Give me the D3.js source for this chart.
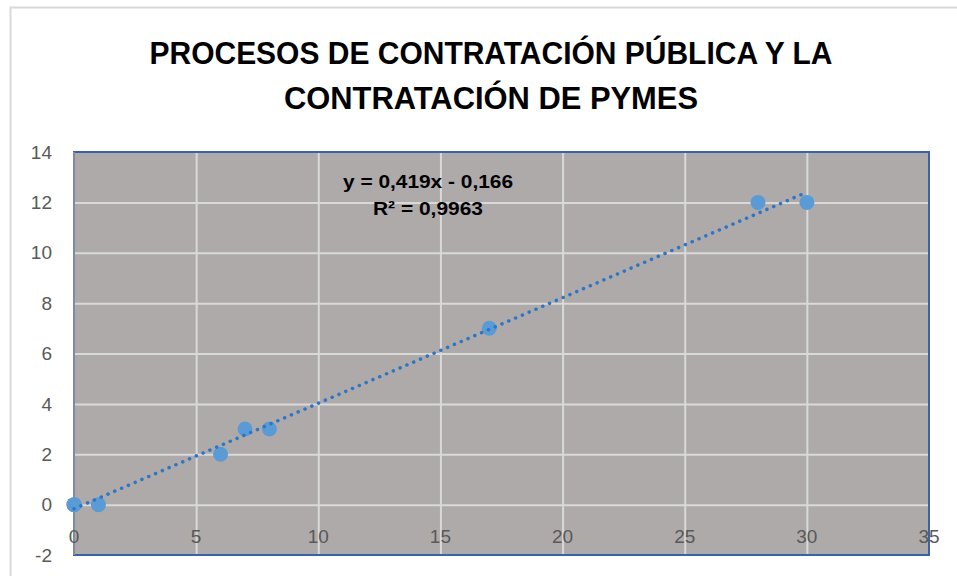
<!DOCTYPE html>
<html>
<head>
<meta charset="utf-8">
<script src="https://cdn.jsdelivr.net/npm/d3@7"></script>
<style>
  html, body { margin: 0; padding: 0; background: #fff; }
  svg { display: block; }
  text { font-family: "Liberation Sans", Arial, sans-serif; }
</style>
</head>
<body>
<svg id="chart" width="957" height="576"></svg>
<script>
/* datos */
var puntos_x = [0, 0, 1, 6, 7, 8, 17, 28, 30];
var puntos_y = [0, 0, 0, 2, 3, 3, 7, 12, 12];

var ticks_x = [0, 5, 10, 15, 20, 25, 30, 35];
var ticks_y = [-2, 0, 2, 4, 6, 8, 10, 12, 14];

var titulo = ['PROCESOS DE CONTRATACIÓN PÚBLICA Y LA', 'CONTRATACIÓN DE PYMES'];
var etiqueta_tendencia = ['y = 0,419x - 0,166', 'R² = 0,9963'];
var tendencia = { pendiente: 0.419, intercepto: -0.166, desde: 0, hasta: 30 };

var svg = d3.select('#chart');

/* marco exterior */
svg.append('rect')
    .attr('x', 10.5).attr('y', 7.5)
    .attr('width', 960).attr('height', 590)
    .attr('fill', '#fff')
    .attr('stroke', '#d9d9d9')
    .attr('stroke-width', 2);

var x = d3.scaleLinear().domain([0, 35]).range([74, 929]);
var y = d3.scaleLinear().domain([-2, 14]).range([555, 152]);

/* título */
var anchos = [683, 414];
svg.selectAll('.titulo')
    .data(titulo)
    .enter()
    .append('text')
    .attr('class', 'titulo')
    .attr('x', 491)
    .attr('y', function(d, i) { return 64 + i * 45; })
    .attr('text-anchor', 'middle')
    .attr('font-size', 31)
    .attr('font-weight', 'bold')
    .attr('fill', '#000')
    .attr('textLength', function(d, i) { return anchos[i]; })
    .attr('lengthAdjust', 'spacingAndGlyphs')
    .text(function(d) { return d; });

/* área de trazado */
svg.append('rect')
    .attr('x', x(0)).attr('y', y(14))
    .attr('width', x(35) - x(0)).attr('height', y(-2) - y(14))
    .attr('fill', '#aeaaaa');

/* líneas de cuadrícula */
svg.append('g')
    .attr('transform', 'translate(0,' + y(-2) + ')')
    .call(d3.axisBottom(x).tickValues(ticks_x.slice(1, -1)).tickSize(-(y(-2) - y(14))).tickFormat(''))
    .call(function(g) {
        g.select('.domain').remove();
        g.selectAll('line').attr('stroke', '#d9d9d9').attr('stroke-width', 2);
    });

svg.append('g')
    .attr('transform', 'translate(' + x(0) + ',0)')
    .call(d3.axisLeft(y).tickValues(ticks_y.slice(1, -1)).tickSize(-(x(35) - x(0))).tickFormat(''))
    .call(function(g) {
        g.select('.domain').remove();
        g.selectAll('line').attr('stroke', '#d9d9d9').attr('stroke-width', 2);
    });

/* borde */
svg.append('rect')
    .attr('x', x(0)).attr('y', y(14))
    .attr('width', x(35) - x(0)).attr('height', y(-2) - y(14))
    .attr('fill', 'none')
    .attr('stroke', '#3a62ab')
    .attr('stroke-width', 2);

svg.append('line')
    .attr('x1', x(0)).attr('x2', x(0))
    .attr('y1', y(14)).attr('y2', y(-2))
    .attr('stroke', '#9a9a9a')
    .attr('stroke-width', 1.5);

/* etiquetas de ejes */
svg.selectAll('.etq_y')
    .data(ticks_y)
    .enter()
    .append('text')
    .attr('class', 'etq_y')
    .attr('x', 52)
    .attr('y', function(d) { return y(d); })
    .attr('dy', '0.35em')
    .attr('text-anchor', 'end')
    .attr('font-size', 19)
    .attr('fill', '#595959')
    .text(function(d) { return d; });

svg.selectAll('.etq_x')
    .data(ticks_x)
    .enter()
    .append('text')
    .attr('class', 'etq_x')
    .attr('x', function(d) { return x(d); })
    .attr('y', y(0) + 32)
    .attr('dy', '0.35em')
    .attr('text-anchor', 'middle')
    .attr('font-size', 19)
    .attr('fill', '#595959')
    .text(function(d) { return d; });

/* puntos */
svg.selectAll('.punto')
    .data(puntos_x)
    .enter()
    .append('circle')
    .attr('class', 'punto')
    .attr('cx', function(d) { return x(d); })
    .attr('cy', function(d, i) { return y(puntos_y[i]); })
    .attr('r', 7.5)
    .attr('fill', '#5b9bd5');

/* línea de tendencia */
var linea = d3.line()
    .x(function(d) { return x(d); })
    .y(function(d) { return y(tendencia.pendiente * d + tendencia.intercepto); });

svg.append('path')
    .datum([tendencia.desde, tendencia.hasta])
    .attr('d', linea)
    .attr('fill', 'none')
    .attr('stroke', '#2e75c6')
    .attr('stroke-width', 3.5)
    .attr('stroke-linecap', 'round')
    .attr('stroke-dasharray', '0.1 7.3');

/* ecuación */
var anchos_eq = [170, 110];
svg.selectAll('.ecuacion')
    .data(etiqueta_tendencia)
    .enter()
    .append('text')
    .attr('class', 'ecuacion')
    .attr('x', 428)
    .attr('y', function(d, i) { return 181 + i * 27; })
    .attr('dy', '0.35em')
    .attr('text-anchor', 'middle')
    .attr('font-size', 19)
    .attr('font-weight', 'bold')
    .attr('fill', '#000')
    .attr('textLength', function(d, i) { return anchos_eq[i]; })
    .attr('lengthAdjust', 'spacingAndGlyphs')
    .text(function(d) { return d; });
</script>
</body>
</html>
